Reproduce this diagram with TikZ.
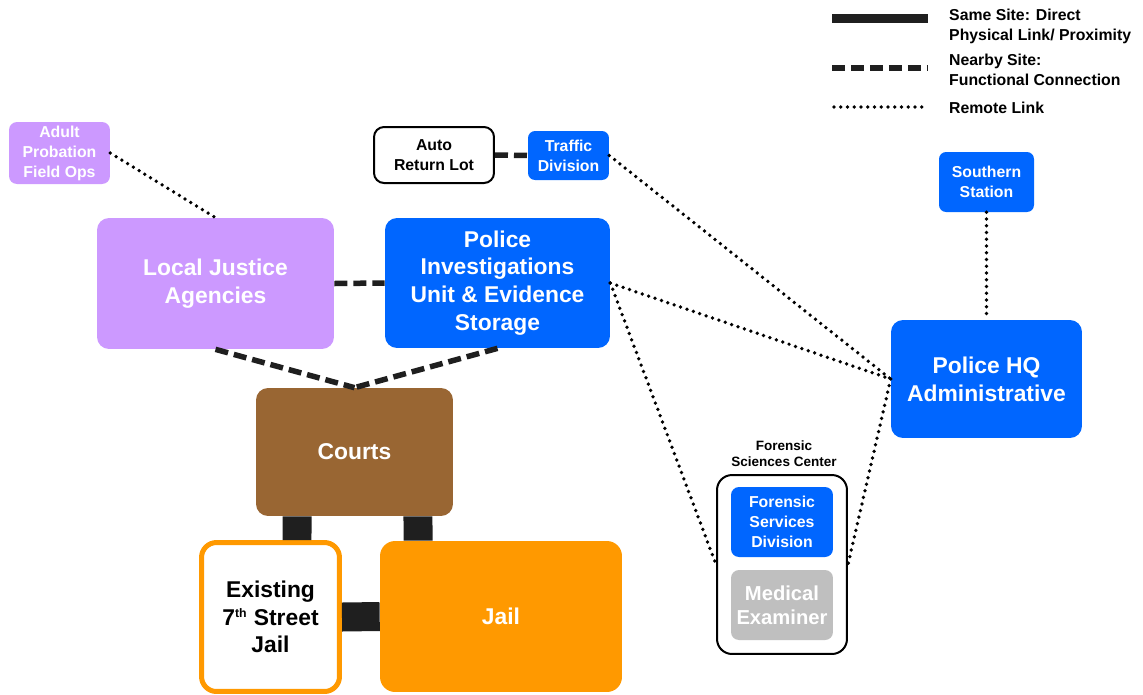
\documentclass[tikz,border=0pt]{standalone}
\usepackage{fontspec}
\setmainfont{Liberation Sans}
\usepackage{xcolor}
\usepackage{tikz}

\definecolor{lavender}{HTML}{CC99FF}
\definecolor{copblue}{HTML}{0066FF}
\definecolor{courtbrown}{HTML}{996633}
\definecolor{jailorange}{HTML}{FF9900}
\definecolor{megrey}{HTML}{BFBFBF}
\definecolor{linkblack}{HTML}{1F1F1F}

\begin{document}
\begin{tikzpicture}[
        x=0.02cm, y=-0.02cm,
        unit/.style={rounded corners=0.24cm, align=center, inner sep=0pt},
        bigtext/.style={font=\fontsize{13}{15.8}\selectfont\bfseries},
        smalltext/.style={font=\fontsize{9}{11.4}\selectfont\bfseries},
        samesite/.style={draw=linkblack, line width=0.58cm},
        nearby/.style={draw=linkblack, line width=0.11cm, dash pattern=on 0.26cm off 0.12cm},
        remote/.style={draw=black, line width=0.075cm, line cap=round, dash pattern=on 0pt off 0.135cm}
    ]
    \useasboundingbox (0,0) rectangle (1143,694);

    % Legend
    \coordinate (sameA) at (832,18);
    \coordinate (sameB) at (928,18);
    \coordinate (nearA) at (832,68);
    \coordinate (nearB) at (928,68);
    \coordinate (remA) at (834,107);
    \coordinate (remB) at (926,107);
    \draw[draw=linkblack, line width=0.18cm] (sameA) -- (sameB);
    \draw[nearby] (nearA) -- (nearB);
    \draw[remote] (remA) -- (remB);
    \node[smalltext, anchor=west, align=left] (legsame) at (943,26) {Same Site: Direct\\Physical Link/ Proximity};
    \node[smalltext, anchor=west, align=left] (legnear) at (943,70) {Nearby Site:\\Functional Connection};
    \node[smalltext, anchor=west, align=left] (legrem) at (943,108) {Remote Link};

    % Justice side
    \node[unit, smalltext, fill=lavender, text=white, rounded corners=0.16cm,
          minimum width=2.02cm, minimum height=1.24cm] (adult) at (59.5,153) {Adult\\Probation\\Field Ops};
    \node[unit, bigtext, fill=lavender, text=white,
          minimum width=4.74cm, minimum height=2.62cm] (lja) at (215.5,283.5) {Local Justice\\Agencies};

    % Police units
    \node[unit, smalltext, draw=black, line width=0.04cm, fill=white, rounded corners=0.2cm,
          minimum width=2.4cm, minimum height=1.12cm] (autolot) at (434,155) {Auto\\Return Lot};
    \node[unit, smalltext, fill=copblue, text=white, rounded corners=0.14cm,
          minimum width=1.62cm, minimum height=0.98cm] (traffic) at (568.5,155.5) {Traffic\\Division};
    \node[unit, bigtext, fill=copblue, text=white,
          minimum width=4.5cm, minimum height=2.6cm] (piu) at (497.5,283) {Police\\Investigations\\Unit \& Evidence\\Storage};
    \node[unit, smalltext, fill=copblue, text=white, rounded corners=0.14cm,
          minimum width=1.9cm, minimum height=1.2cm] (southern) at (986.5,182) {Southern\\Station};
    \node[unit, bigtext, fill=copblue, text=white,
          minimum width=3.82cm, minimum height=2.36cm] (hq) at (986.5,379) {Police HQ\\Administrative};

    % Courts and jails
    \node[unit, bigtext, fill=courtbrown, text=white,
          minimum width=3.94cm, minimum height=2.56cm] (courts) at (354.5,452) {Courts};
    \node[unit, bigtext, draw=jailorange, line width=0.1cm, fill=white, text=black, rounded corners=0.3cm,
          minimum width=2.76cm, minimum height=2.98cm] (oldjail) at (270.5,617) {Existing\\7\textsuperscript{\scriptsize th} Street\\Jail};
    \node[unit, bigtext, fill=jailorange, text=white, rounded corners=0.3cm,
          minimum width=4.84cm, minimum height=3.02cm] (jail) at (501,616.5) {Jail};

    % Forensic Sciences Center
    \node[unit, draw=black, line width=0.04cm, fill=white, rounded corners=0.3cm,
          minimum width=2.6cm, minimum height=3.58cm] (fsc) at (782,564.5) {};
    \node[align=center, font=\fontsize{7.7}{9.1}\selectfont\bfseries, anchor=south] (fsclabel) at (784,473) {Forensic\\Sciences Center};
    \node[unit, smalltext, fill=copblue, text=white, rounded corners=0.16cm,
          minimum width=2.04cm, minimum height=1.4cm] (fsd) at (782,522) {Forensic\\Services\\Division};
    \node[unit, font=\fontsize{11.5}{13.7}\selectfont\bfseries, fill=megrey, text=white, rounded corners=0.16cm,
          minimum width=2.04cm, minimum height=1.4cm] (medex) at (782,605) {Medical\\Examiner};

    % Same site links
    \draw[samesite] ([xshift=-1.15cm]courts.south) -- ([xshift=0.53cm]oldjail.north);
    \draw[samesite] ([xshift=1.27cm]courts.south) -- ([xshift=-1.66cm]jail.north);
    \draw[samesite] (oldjail.east) -- (jail.west);

    % Nearby site links
    \draw[nearby] (lja.east) -- (piu.west);
    \draw[nearby] (autolot.east) -- (traffic.west);
    \draw[nearby] (lja.south) -- (courts.north);
    \draw[nearby] (piu.south) -- (courts.north);

    % Remote links
    \draw[remote] (adult.east) -- (lja.north);
    \draw[remote] (traffic.east) -- (hq.west);
    \draw[remote] (piu.east) -- (hq.west);
    \draw[remote] (piu.east) -- (fsc.west);
    \draw[remote] (hq.west) -- (fsc.east);
    \draw[remote] (southern.south) -- (hq.north);

\end{tikzpicture}
\end{document}
